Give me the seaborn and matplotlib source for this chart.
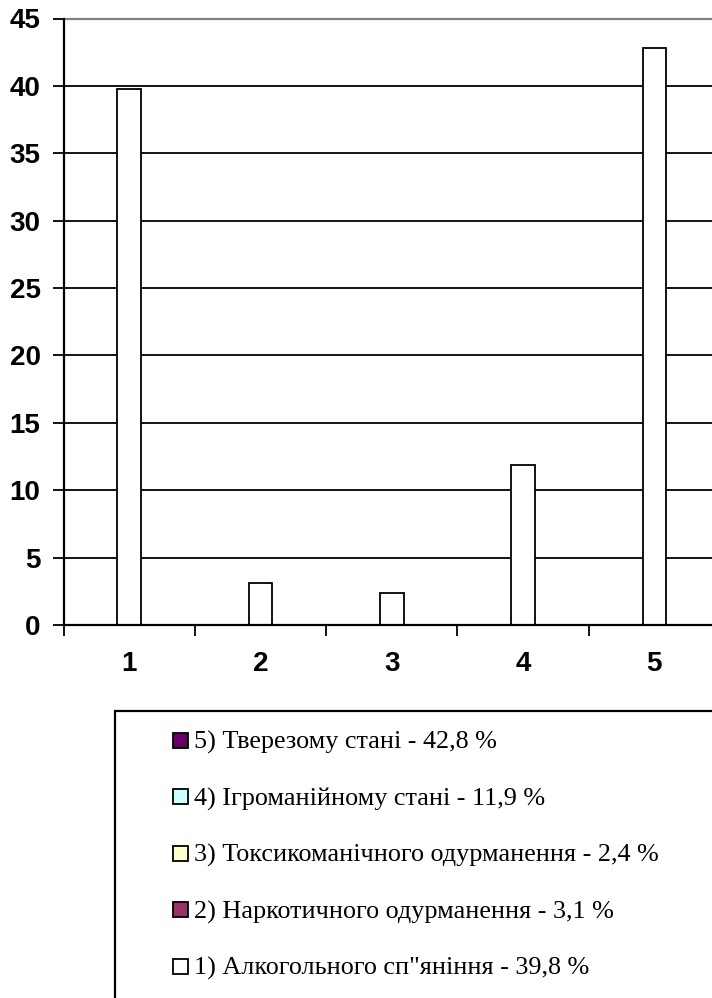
import matplotlib
matplotlib.use("Agg")
import matplotlib.pyplot as plt
from matplotlib.patches import Rectangle
import seaborn as sns
import pandas as pd

# Categories and shares (%)
categories = ["1", "2", "3", "4", "5"]
values = [39.8, 3.1, 2.4, 11.9, 42.8]
legend_names = [
    "Алкогольного сп\"яніння",
    "Наркотичного одурманення",
    "Токсикоманічного одурманення",
    "Ігроманійному стані",
    "Тверезому стані",
]
legend_colors = ["#FFFFFF", "#993366", "#FFFFCC", "#CCFFFF", "#660066"]
y_ticks = [0, 5, 10, 15, 20, 25, 30, 35, 40, 45]

sns.set_theme(style="white")
plt.rcParams["font.family"] = ["Liberation Sans", "DejaVu Sans"]

W, H, DPI = 712, 998, 100
fig = plt.figure(figsize=(W / DPI, H / DPI), dpi=DPI)

# plot area in pixel terms
left_px, right_px, top_px, bottom_px = 63.5, 720.0, 18.5, 625.0
ax = fig.add_axes([left_px / W, 1 - bottom_px / H,
                   (right_px - left_px) / W, (bottom_px - top_px) / H])

df = pd.DataFrame({"cat": categories, "val": values})
sns.barplot(data=df, x="cat", y="val", color="white", edgecolor="black",
            linewidth=1.3, width=0.18, saturation=1, ax=ax, zorder=3)

ax.set_xlim(-0.5, len(categories) - 0.5)
ax.set_ylim(0, 45)
ax.set_yticks(y_ticks)
ax.set_yticklabels([str(t) for t in y_ticks])
ax.set_xlabel("")
ax.set_ylabel("")

# horizontal gridlines
for t in y_ticks[1:-1]:
    ax.axhline(t, color="black", linewidth=1.3, zorder=1)
ax.axhline(y_ticks[-1], color="#808080", linewidth=1.6, zorder=1, clip_on=False)

for side in ["top", "right"]:
    ax.spines[side].set_visible(False)
for side in ["left", "bottom"]:
    ax.spines[side].set_visible(True)
    ax.spines[side].set_color("black")
    ax.spines[side].set_linewidth(1.6)
ax.spines["bottom"].set_zorder(4)

ax.tick_params(axis="y", which="major", left=True, length=8, width=1.3,
               color="black", labelsize=20, pad=8.5)
ax.tick_params(axis="x", which="major", bottom=False, labelsize=20, pad=13)
ax.set_xticks([i - 0.5 for i in range(len(categories) + 1)], minor=True)
ax.tick_params(axis="x", which="minor", bottom=True, length=8, width=1.3,
               color="black")
for lab in ax.get_xticklabels() + ax.get_yticklabels():
    lab.set_fontweight("bold")
    lab.set_color("black")

# legend frame and entries
fig.patches.append(Rectangle((115 / W, -0.05), 1.0, 1 - 711 / H + 0.05,
                             transform=fig.transFigure, facecolor="none",
                             edgecolor="black", linewidth=1.6))
sq = 15
row0, step = 740, 56.5
order = list(range(len(values)))[::-1]
for row, i in enumerate(order):
    cy = row0 + row * step
    fig.patches.append(Rectangle((172.5 / W, 1 - (cy + sq / 2) / H), sq / W, sq / H,
                                 transform=fig.transFigure,
                                 facecolor=legend_colors[i], edgecolor="black",
                                 linewidth=1.3))
    label = f"{i + 1}) {legend_names[i]} - " + f"{values[i]:.1f}".replace(".", ",") + " %"
    fig.text(193.5 / W, 1 - cy / H, label, ha="left", va="center_baseline",
             fontsize=18.8, family=["Liberation Serif", "DejaVu Serif"], color="black")

fig.savefig("out.png", dpi=DPI, facecolor="white")
